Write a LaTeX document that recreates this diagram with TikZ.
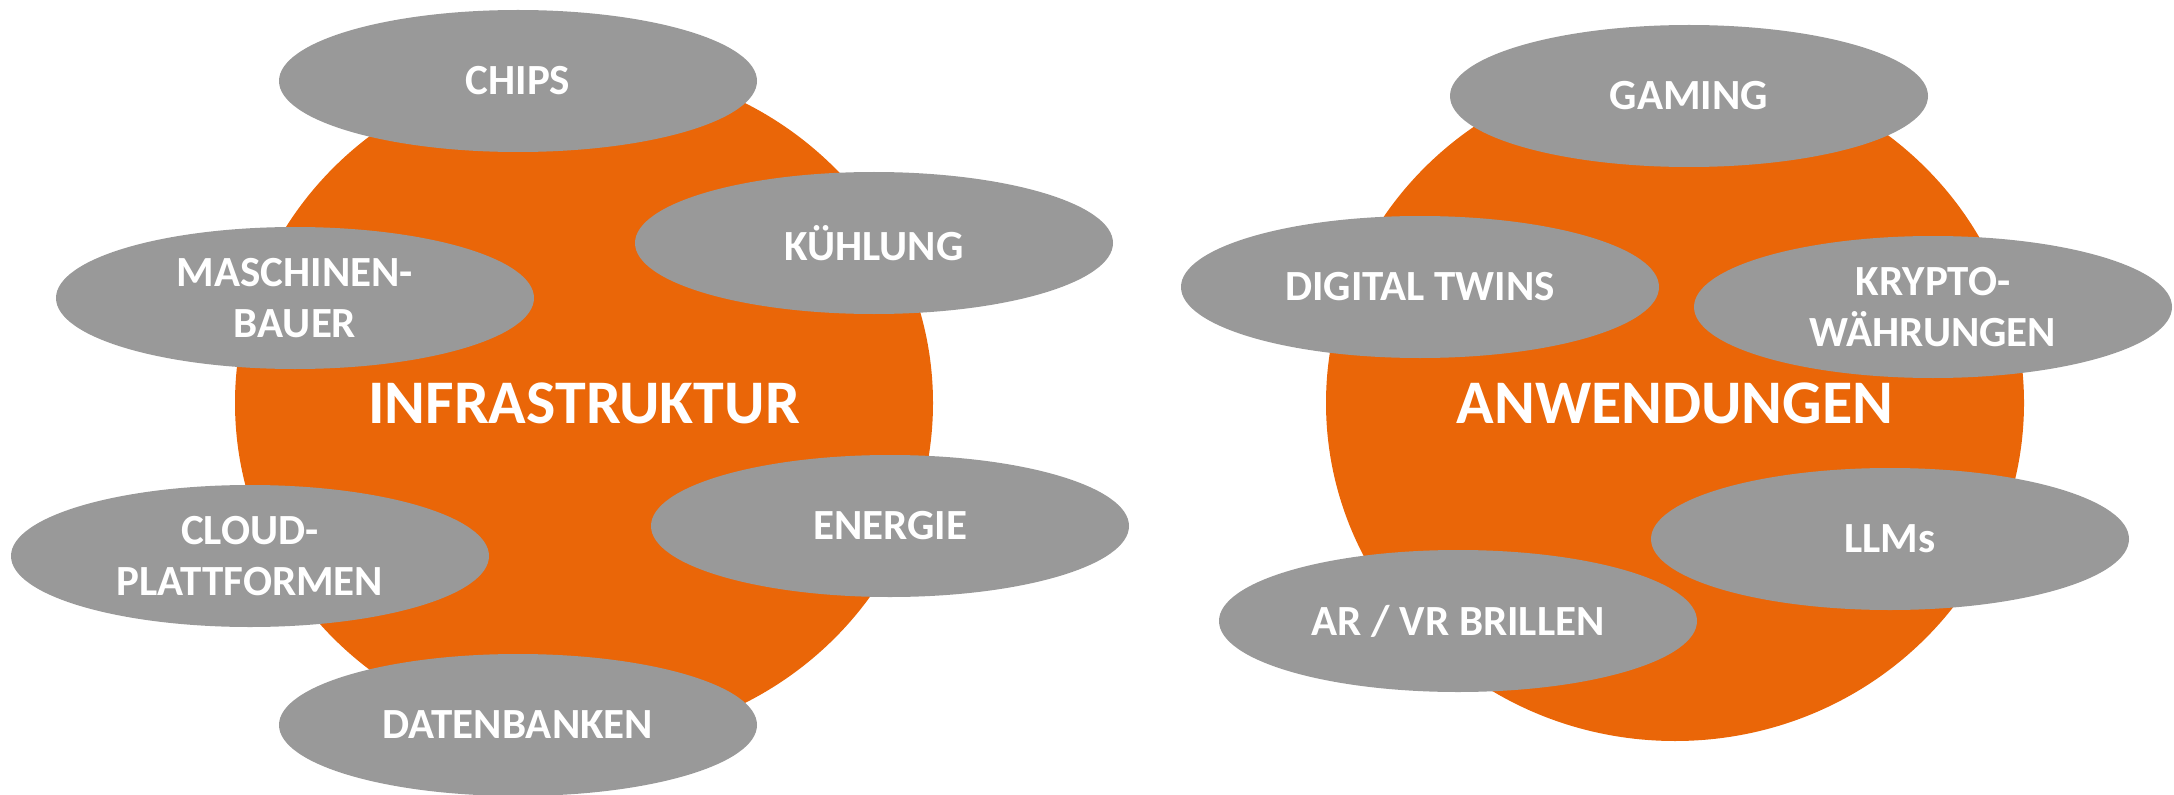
\documentclass[tikz,border=0pt]{standalone}
\usepackage{fontspec}
\setmainfont{Carlito}
\usetikzlibrary{shapes.geometric}

\definecolor{orangeBg}{RGB}{234,102,8}
\definecolor{grayBox}{RGB}{153,153,153}

\tikzset{every picture/.style={line width=0.75pt}}
\tikzset{
	bigblob/.style={ellipse,fill=orangeBg,draw=none,minimum width=523.5pt,minimum height=507pt,inner sep=0pt,text=white,font=\bfseries\fontsize{46.5}{55}\selectfont},
	topic/.style={ellipse,fill=grayBox,draw=none,minimum width=358.5pt,minimum height=106.5pt,inner sep=0pt,text=white,align=center,font=\bfseries\fontsize{32.25}{38.25}\selectfont}
}

\begin{document}
\begin{tikzpicture}[x=0.75pt,y=0.75pt,yscale=-1,xscale=1]
	\useasboundingbox (0,0) rectangle (2174,795);
	%Shape: Ellipse left
	\node [bigblob] (infra) at (584,403) {INFRASTRUKTUR};
	%Shape: Ellipse right
	\node [bigblob] (anw) at (1675,403) {ANWENDUNGEN};
	
	%Left topics
	\node [topic] (chips) at (518,81) {CHIPS};
	\node [topic] (kuehlung) at (874,243) {KÜHLUNG};
	\node [topic] (maschinen) at (295,298) {MASCHINEN-\\BAUER};
	\node [topic] (energie) at (890,526) {ENERGIE};
	\node [topic] (cloud) at (250,556) {CLOUD-\\PLATTFORMEN};
	\node [topic] (daten) at (518,725) {DATENBANKEN};
	
	%Right topics
	\node [topic] (gaming) at (1689,96) {GAMING};
	\node [topic] (twins) at (1420,287) {DIGITAL TWINS};
	\node [topic] (krypto) at (1933,307) {KRYPTO-\\WÄHRUNGEN};
	\node [topic] (llms) at (1890,539) {LLMs};
	\node [topic] (arvr) at (1458,621) {AR / VR BRILLEN};
\end{tikzpicture}
\end{document}
